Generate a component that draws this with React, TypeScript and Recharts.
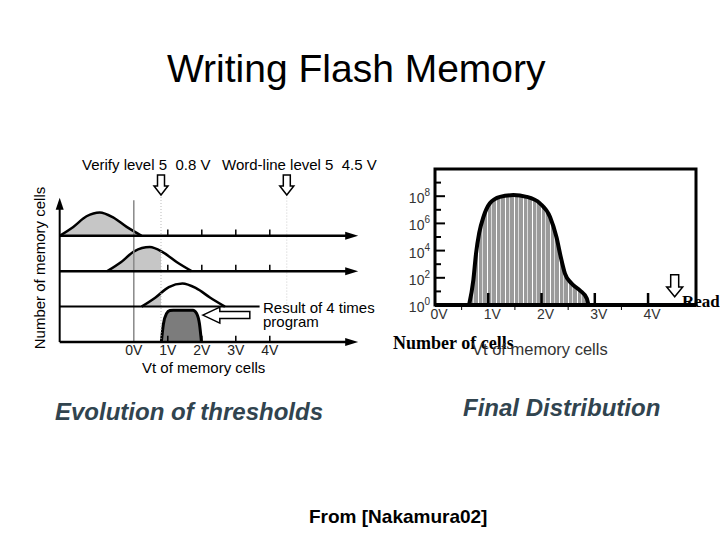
import React from 'react';
import {
  ComposedChart,
  Area,
  XAxis,
  YAxis,
  ReferenceLine,
  ReferenceDot,
  ReferenceArea,
} from 'recharts';

// Left panel: Vt distribution after each program pulse (V, height relative to row spacing)
const PULSE_1 = [
  { v: -2.18, h: 0 }, { v: -1.78, h: 0.25 }, { v: -1.39, h: 0.55 }, { v: -1.0, h: 0.66 },
  { v: -0.61, h: 0.52 }, { v: -0.21, h: 0.25 }, { v: 0.23, h: 0 },
];
const PULSE_2 = [
  { v: -0.78, h: 0 }, { v: -0.38, h: 0.25 }, { v: 0.01, h: 0.56 }, { v: 0.47, h: 0.68 },
  { v: 0.86, h: 0.53 }, { v: 1.27, h: 0.25 }, { v: 1.7, h: 0 },
];
const PULSE_3 = [
  { v: 0.23, h: 0 }, { v: 0.63, h: 0.25 }, { v: 1.03, h: 0.55 }, { v: 1.43, h: 0.65 },
  { v: 1.83, h: 0.52 }, { v: 2.25, h: 0.25 }, { v: 2.68, h: 0 },
];
const RESULT_4 = [
  { v: 0.81, h: 0 }, { v: 0.87, h: 0.5 }, { v: 0.96, h: 0.8 }, { v: 1.06, h: 0.89 }, { v: 1.16, h: 0.9 },
  { v: 1.74, h: 0.9 }, { v: 1.84, h: 0.82 }, { v: 1.93, h: 0.52 }, { v: 1.99, h: 0 },
];
const PULSE_ROWS = [PULSE_1, PULSE_2, PULSE_3];
const PULSE_BASES = [3, 2, 1];
const LEFT_TICKS = [0, 1, 2, 3, 4];
const VERIFY_LEVEL = 0.8;
const WORDLINE_LEVEL = 4.5;

// Right panel: final distribution, number of cells (log) vs Vt
const FINAL_VT = [0.64, 0.72, 0.77, 0.83, 0.91, 1.03, 1.22, 1.47, 1.72, 1.97, 2.16, 2.28, 2.36, 2.44, 2.56, 2.72, 2.85, 2.88];
const FINAL_CELLS = [1, 70, 6e3, 2e5, 3e6, 3e7, 9e7, 1.2e8, 9e7, 3e7, 3e6, 1e5, 3.5e3, 200, 40, 12, 3, 1];
const DECADES = [1, 10, 1e2, 1e3, 1e4, 1e5, 1e6, 1e7, 1e8, 1e9];
const RIGHT_TICKS = [0, 0.5, 1, 1.5, 2, 2.5, 3, 3.5, 4];

const SANS = '"Liberation Sans", Arial, sans-serif';
const SERIF = '"Liberation Serif", "Times New Roman", serif';

function Txt({ x, base, size, children, style }: any) {
  return (
    <div style={{
      position: 'absolute', left: x, top: base - 0.85 * size, fontSize: size,
      lineHeight: 1, whiteSpace: 'pre', fontFamily: SANS, ...style,
    }}>
      {children}
    </div>
  );
}

// outline arrow, tip at (cx, cy)
const downArrow = (w: number, h: number) => ({ cx, cy }: any) => (
  <polygon
    points={`${cx},${cy} ${cx - w / 2},${cy - h * 0.45} ${cx - w / 4},${cy - h * 0.45} ${cx - w / 4},${cy - h} ${cx + w / 4},${cy - h} ${cx + w / 4},${cy - h * 0.45} ${cx + w / 2},${cy - h * 0.45}`}
    fill="#fff" stroke="#000" strokeWidth={1.5}
  />
);
const leftArrow = ({ cx, cy }: any) => (
  <polygon
    points={`${cx},${cy} ${cx + 17},${cy - 8} ${cx + 17},${cy - 3.5} ${cx + 47},${cy - 3.5} ${cx + 47},${cy + 3.5} ${cx + 17},${cy + 3.5} ${cx + 17},${cy + 8}`}
    fill="#fff" stroke="#000" strokeWidth={1.5}
  />
);
const rightHead = ({ cx, cy }: any) => (
  <polygon points={`${cx},${cy} ${cx - 13},${cy - 4} ${cx - 13},${cy + 4}`} fill="#000" />
);
const upHead = ({ cx, cy }: any) => (
  <polygon points={`${cx},${cy} ${cx - 4},${cy + 12} ${cx + 4},${cy + 12}`} fill="#000" />
);

function DecadeTick({ x, y, payload }: any) {
  const exp = Math.round(Math.log10(payload.value));
  const major = exp % 2 === 0;
  return (
    <g>
      <line x1={x} x2={x + (major ? 10 : 6)} y1={y} y2={y} stroke="#000" strokeWidth={2} />
      {major && (
        <text x={x - 5} y={y + 7} textAnchor="end" fontSize={14} fill="#333" fontFamily={SANS}>
          10<tspan dy={-7} fontSize={10}>{exp}</tspan>
        </text>
      )}
    </g>
  );
}

function VoltTick({ x, y, payload }: any) {
  const v = payload.value;
  if (!Number.isInteger(v)) {
    return <line x1={x} x2={x} y1={y} y2={y + 5} stroke="#000" strokeWidth={1} />;
  }
  return (
    <g>
      {v > 0 && <line x1={x} x2={x} y1={y} y2={y - 12} stroke="#000" strokeWidth={2.5} />}
      <text x={x + 4} y={y + 14} textAnchor="middle" fontSize={14} fill="#333" fontFamily={SANS}>{`${v}V`}</text>
    </g>
  );
}

function EvolutionChart() {
  const rows = PULSE_ROWS.map((pts, i) => {
    const base = PULSE_BASES[i];
    const v0 = pts[0].v;
    const v1 = pts[pts.length - 1].v;
    const cut = Math.min(1, Math.max(0, (VERIFY_LEVEL - v0) / (v1 - v0)));
    return { base, cut, data: pts.map((p) => ({ v: p.v, y: base + p.h })) };
  });
  const result = RESULT_4.map((p) => ({ v: p.v, y: p.h }));

  return (
    <ComposedChart width={326} height={210} margin={{ top: 10, right: 10, bottom: 0, left: 10 }}>
      <defs>
        {rows.map((r, i) => (
          <linearGradient key={i} id={`pulse${i}`} x1="0" x2="1" y1="0" y2="0">
            <stop offset={r.cut} stopColor="#c6c6c6" stopOpacity={1} />
            <stop offset={r.cut} stopColor="#fff" stopOpacity={0} />
          </linearGradient>
        ))}
      </defs>
      <XAxis
        type="number" dataKey="v" domain={[-2.2, 6.8]} ticks={LEFT_TICKS} interval={0}
        tickFormatter={(v) => `${v}V`} axisLine={false} tickLine={false} tickSize={0} tickMargin={3}
        height={30} tick={{ fontSize: 14, fill: '#222', fontFamily: SANS }} allowDataOverflow
      />
      <YAxis hide type="number" domain={[0, 4.8]} allowDataOverflow />

      {/* level markers */}
      <ReferenceLine segment={[{ x: 0, y: 0 }, { x: 0, y: 4.0 }]} stroke="#888" strokeWidth={1.5} />
      <ReferenceLine segment={[{ x: VERIFY_LEVEL, y: 0 }, { x: VERIFY_LEVEL, y: 4.15 }]} stroke="#bbb" strokeDasharray="1 2" />
      <ReferenceLine segment={[{ x: WORDLINE_LEVEL, y: 1.0 }, { x: WORDLINE_LEVEL, y: 4.15 }]} stroke="#ccc" strokeDasharray="1 2" />

      {[3, 2, 0].flatMap((b) =>
        [1, 2, 3, 4].map((t) => (
          <ReferenceLine key={`${b}-${t}`} segment={[{ x: t, y: b }, { x: t, y: b + 0.18 }]} stroke="#000" strokeWidth={1.5} />
        )),
      )}

      {rows.map((r, i) => (
        <Area
          key={i} data={r.data} dataKey="y" baseValue={r.base} type="monotone"
          stroke="#000" strokeWidth={2.5} fill={`url(#pulse${i})`} fillOpacity={1} isAnimationActive={false}
        />
      ))}
      <Area
        data={result} dataKey="y" baseValue={0} type="monotone"
        stroke="#000" strokeWidth={3} fill="#7c7c7c" fillOpacity={1} isAnimationActive={false}
      />

      {/* axes of each row */}
      <ReferenceLine segment={[{ x: -2.18, y: 0 }, { x: -2.18, y: 3.8 }]} stroke="#000" strokeWidth={2} />
      <ReferenceDot x={-2.18} y={4.07} r={0} shape={upHead} ifOverflow="visible" />
      {[3, 2, 0].map((b) => (
        <ReferenceLine key={b} segment={[{ x: -2.18, y: b }, { x: 6.3, y: b }]} stroke="#000" strokeWidth={2.5} />
      ))}
      {[3, 2, 0].map((b) => (
        <ReferenceDot key={`h${b}`} x={6.6} y={b} r={0} shape={rightHead} ifOverflow="visible" />
      ))}
      <ReferenceLine segment={[{ x: -2.18, y: 1 }, { x: 3.7, y: 1 }]} stroke="#000" strokeWidth={2} />

      <ReferenceDot x={VERIFY_LEVEL} y={4.15} r={0} shape={downArrow(14, 20)} ifOverflow="visible" />
      <ReferenceDot x={WORDLINE_LEVEL} y={4.15} r={0} shape={downArrow(14, 20)} ifOverflow="visible" />
      <ReferenceDot x={2.03} y={0.76} r={0} shape={leftArrow} ifOverflow="visible" />
    </ComposedChart>
  );
}

function FinalChart() {
  const data = FINAL_VT.map((v, i) => ({ v, cells: FINAL_CELLS[i] }));
  return (
    <ComposedChart width={301} height={171} margin={{ top: 5, right: 10, bottom: 0, left: 0 }} data={data}>
      <defs>
        <pattern id="stripes" patternUnits="userSpaceOnUse" width="9" height="200">
          <rect width="9" height="200" fill="#9a9a9a" />
          <rect x="1" width="1" height="200" fill="#fff" />
          <rect x="5" width="0.8" height="200" fill="#fff" opacity={0.8} />
        </pattern>
      </defs>
      <XAxis
        type="number" dataKey="v" domain={[0, 4.9]} ticks={RIGHT_TICKS} interval={0}
        tick={(p: any) => <VoltTick {...p} />} axisLine={{ stroke: '#000', strokeWidth: 4 }}
        tickLine={false} tickSize={0} tickMargin={0} height={30} allowDataOverflow
      />
      <YAxis
        type="number" scale="log" domain={[1, 1e10]} ticks={DECADES} interval={0}
        tick={(p: any) => <DecadeTick {...p} />} axisLine={false} tickLine={false}
        tickSize={0} tickMargin={0} width={30} allowDataOverflow
      />
      <ReferenceArea x1={0} x2={4.9} y1={1} y2={1e10} fill="none" stroke="#000" strokeWidth={3} ifOverflow="visible" />
      <Area
        dataKey="cells" type="monotone" baseValue={1} fill="url(#stripes)" fillOpacity={1}
        stroke="#000" strokeWidth={4} isAnimationActive={false}
      />
      <ReferenceDot x={4.5} y={4} r={0} shape={downArrow(16, 22)} ifOverflow="visible" />
    </ComposedChart>
  );
}

export default function App() {
  return (
    <div style={{
      position: 'absolute', left: 0, top: 0, width: 720, height: 540, overflow: 'hidden',
      background: '#fff', fontFamily: SANS, color: '#000',
    }}>
      <Txt x={167} base={82} size={39}>Writing Flash Memory</Txt>

      <Txt x={82} base={170} size={15}>Verify level 5  0.8 V</Txt>
      <Txt x={222} base={170} size={15}>Word-line level 5  4.5 V</Txt>
      <div style={{
        position: 'absolute', left: 38.5, top: 267.5, transform: 'translate(-50%, -50%) rotate(-90deg)',
        fontSize: 15, lineHeight: 1, whiteSpace: 'nowrap', fontFamily: SANS,
      }}>
        Number of memory cells
      </div>
      <div style={{ position: 'absolute', left: 49, top: 162 }}>
        <EvolutionChart />
      </div>
      <div style={{
        position: 'absolute', left: 263, top: 301, fontSize: 15, lineHeight: '14px',
        whiteSpace: 'pre', fontFamily: SANS,
      }}>
        {'Result of 4 times\nprogram'}
      </div>
      <Txt x={142} base={373} size={15}>Vt of memory cells</Txt>

      <div style={{ position: 'absolute', left: 405, top: 164 }}>
        <FinalChart />
      </div>
      <Txt x={682} base={307} size={17} style={{ fontFamily: SERIF, fontWeight: 'bold' }}>Read</Txt>
      <Txt x={393} base={349} size={18} style={{ fontFamily: SERIF, fontWeight: 'bold' }}>Number of cells</Txt>
      <Txt x={472} base={355} size={16.5} style={{ color: '#333' }}>Vt of memory cells</Txt>

      <Txt x={55} base={420} size={24} style={{ fontWeight: 'bold', fontStyle: 'italic', color: '#31444f' }}>Evolution of thresholds</Txt>
      <Txt x={463} base={416} size={24} style={{ fontWeight: 'bold', fontStyle: 'italic', color: '#31444f' }}>Final Distribution</Txt>
      <Txt x={309} base={523} size={19} style={{ fontWeight: 'bold' }}>From [Nakamura02]</Txt>
    </div>
  );
}
